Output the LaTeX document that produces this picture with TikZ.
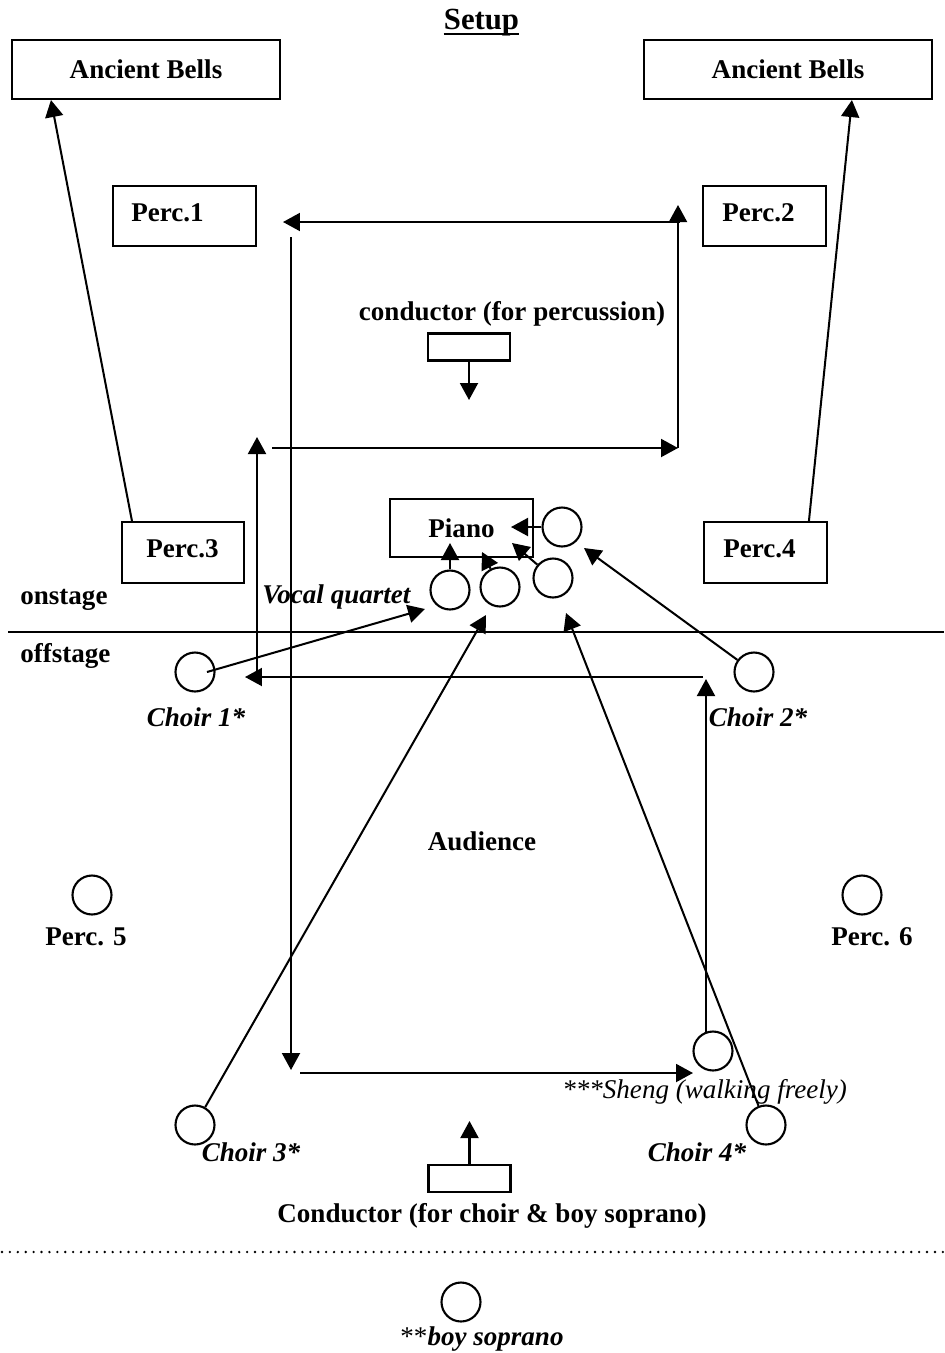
\documentclass[tikz,border=0pt]{standalone}
\usepackage{fontspec}
\setmainfont{Liberation Serif}
\usetikzlibrary{arrows.meta}
\newcommand\lsz{\fontsize{15.4}{18}\selectfont}
\begin{document}
\begin{tikzpicture}[x=0.02cm,y=-0.02cm,
  lab/.style={inner sep=0pt,font=\lsz\bfseries},
  ilab/.style={inner sep=0pt,font=\lsz\bfseries\itshape},
  box/.style={draw,line width=1.2pt,inner sep=0pt,font=\lsz\bfseries},
  ring/.style={draw,circle,line width=1.2pt,minimum size=0.78cm,inner sep=0pt},
  arr/.style={line width=1.15pt,-{Triangle[length=0.34cm,width=0.36cm]}}]
\useasboundingbox (0,0) rectangle (944,1353);
\node[inner sep=0pt,font=\fontsize{17.5}{20}\selectfont\bfseries,anchor=base] (title) at (481.5,29) {Setup};
\node[box,minimum width=5.36cm,minimum height=1.18cm] (bellsL) at (146,69.5) {Ancient Bells};
\node[box,minimum width=5.76cm,minimum height=1.18cm] (bellsR) at (788,69.5) {Ancient Bells};
\node[box,minimum width=2.86cm,minimum height=1.2cm] (perc1) at (184.5,216) {};
\node[box,minimum width=2.46cm,minimum height=1.2cm] (perc2) at (764.5,216) {};
\node[box,minimum width=2.44cm,minimum height=1.22cm] (perc3) at (183,552.5) {};
\node[box,minimum width=2.46cm,minimum height=1.22cm] (perc4) at (765.5,552.5) {};
\node[lab,anchor=base west] (perc1txt) at (131,221) {Perc.1};
\node[lab,anchor=base west] (perc2txt) at (722,221) {Perc.2};
\node[lab,anchor=base west] (perc3txt) at (146,557) {Perc.3};
\node[lab,anchor=base west] (perc4txt) at (723,557) {Perc.4};
\node[lab,anchor=base] (condPtxt) at (512,320) {conductor (for percussion)};
\node[box,minimum width=1.64cm,minimum height=0.54cm] (condP) at (469,347) {};
\node[box,minimum width=2.86cm,minimum height=1.16cm] (piano) at (461.5,528) {Piano};
\node[ring] (vq1) at (450,590) {};
\node[ring] (vq2) at (500,587) {};
\node[ring] (vq3) at (553,578) {};
\node[ring] (vq4) at (562,527) {};
\node[ilab,anchor=base west] (vqtxt) at (262,603) {Vocal quartet};
\node[lab,anchor=base west] (onstage) at (20,604) {onstage};
\node[lab,anchor=base west] (offstage) at (20,662) {offstage};
\node[ring] (choir1) at (195,672) {};
\node[ring] (choir2) at (754,672) {};
\node[ring] (choir3) at (195,1125) {};
\node[ring] (choir4) at (766,1125) {};
\node[ring] (sheng) at (713,1051) {};
\node[ring] (perc5) at (92,895) {};
\node[ring] (perc6) at (862,895) {};
\node[ring] (boy) at (461,1302) {};
\node[ilab,anchor=base] (choir1txt) at (196,726) {Choir 1*};
\node[ilab,anchor=base] (choir2txt) at (758,726) {Choir 2*};
\node[ilab,anchor=base] (choir3txt) at (251,1161) {Choir 3*};
\node[ilab,anchor=base] (choir4txt) at (697,1161) {Choir 4*};
\node[lab,anchor=base] (perc5txt) at (86,945) {Perc. 5};
\node[lab,anchor=base] (perc6txt) at (872,945) {Perc. 6};
\node[lab,anchor=base] (audience) at (482,850) {Audience};
\node[inner sep=0pt,font=\lsz\itshape,anchor=base west] (shengtxt) at (562,1098) {***Sheng (walking freely)};
\node[box,minimum width=1.64cm,minimum height=0.54cm] (condC) at (469.5,1178.5) {};
\node[lab,anchor=base] (condCtxt) at (492,1222) {Conductor (for choir \& boy soprano)};
\node[ilab,anchor=base] (boytxt) at (482,1345) {{\mdseries\upshape**}boy soprano};
\coordinate (stageL) at (8,632);
\coordinate (stageR) at (944,632);
\coordinate (dotL) at (2,1252);
\coordinate (dotR) at (944,1252);
\coordinate (vq1tip) at (450,543);
\coordinate (vq2tip) at (482,552);
\coordinate (vq3tip) at (512,543);
\coordinate (vq4tip) at (511,527);
\coordinate (quartet) at (425,609);
\coordinate (c2tip) at (584,548);
\coordinate (c3tip) at (486,615);
\coordinate (c4tip) at (566,613);
\coordinate (condPtip) at (469,400);
\coordinate (condCtip) at (469.5,1121);
\coordinate (a1) at (291,237);
\coordinate (a2) at (291,1070);
\coordinate (b1) at (680,222);
\coordinate (b2) at (283,222);
\coordinate (c1) at (678,448);
\coordinate (c2) at (678,205);
\coordinate (d1) at (272,448);
\coordinate (e1) at (257,672);
\coordinate (e2) at (257,437);
\coordinate (f1) at (703,677);
\coordinate (f2) at (245,677);
\coordinate (g1) at (706,1032);
\coordinate (g2) at (706,679);
\coordinate (h1) at (300,1073);
\coordinate (h2) at (693,1073);
\draw[line width=1.7pt] ([yshift=-0.1cm]title.base west) -- ([yshift=-0.1cm]title.base east);
\draw[line width=1.15pt] (stageL) -- (stageR);
\draw[line width=1.5pt,line cap=round,dash pattern=on 0pt off 4.5pt] (dotL) -- (dotR);
\draw[arr] ([xshift=0.22cm]perc3.north west) -- ([xshift=0.8cm]bellsL.south west);
\draw[arr] ([xshift=2.12cm]perc4.north west) -- ([xshift=4.18cm]bellsR.south west);
\draw[arr] (a1) -- (a2);
\draw[arr] (b1) -- (b2);
\draw[arr] (c1) -- (c2);
\draw[arr] (d1) -- (c1);
\draw[arr] (e1) -- (e2);
\draw[arr] (f1) -- (f2);
\draw[arr] (g1) -- (g2);
\draw[arr] (h1) -- (h2);
\draw[arr] (condP.south) -- (condPtip);
\draw[arr] (condC.north) -- (condCtip);
\draw[arr] (vq1.north) -- (vq1tip);
\draw[arr] (vq2) -- (vq2tip);
\draw[arr] (vq3) -- (vq3tip);
\draw[arr] (vq4.west) -- (vq4tip);
\draw[arr] ([xshift=0.24cm]choir1.center) -- (quartet);
\draw[arr] (choir2) -- (c2tip);
\draw[arr] (choir3) -- (c3tip);
\draw[arr] (choir4) -- (c4tip);
\end{tikzpicture}
\end{document}
